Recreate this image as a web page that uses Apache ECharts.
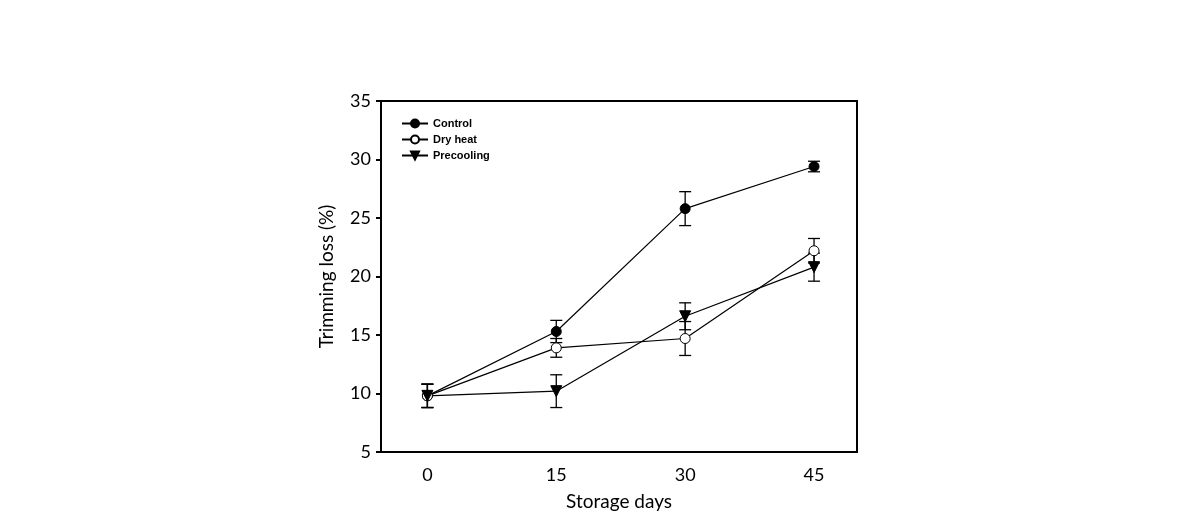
<!DOCTYPE html>
<html><head><meta charset="utf-8">
<script src="https://cdn.jsdelivr.net/npm/echarts@6/dist/echarts.min.js"></script>
<style>html,body{margin:0;padding:0;background:#fff}#c{width:1191px;height:528px}</style>
</head><body><div id="c"></div>
<script>
const days = [0, 15, 30, 45];
const xTicks = [0, 15, 30, 45];
const controlVals = [9.8, 15.3, 25.8, 29.4];
const controlErr = [1.0, 0.95, 1.45, 0.45];
const dryVals = [9.8, 13.9, 14.7, 22.2];
const dryErr = [1.0, 0.8, 1.45, 1.05];
const preVals = [9.8, 10.2, 16.6, 20.8];
const preErr = [1.0, 1.4, 1.15, 1.2];

function pts(v){ return days.map((d,i)=>[d, v[i]]); }
function errData(v,e){ return days.map((d,i)=>[d, v[i], e[i]]); }

function errSeries(v,e){
  return {
    type:'custom', z:1, silent:true,
    data: errData(v,e),
    renderItem:function(params, api){
      const x=api.value(0), y=api.value(1), er=api.value(2);
      const top=api.coord([x,y+er]), bot=api.coord([x,y-er]);
      const w=6;
      const st={stroke:'#000', lineWidth:1.3};
      return {type:'group', children:[
        {type:'line', shape:{x1:top[0],y1:top[1],x2:bot[0],y2:bot[1]}, style:st},
        {type:'line', shape:{x1:top[0]-w,y1:top[1],x2:top[0]+w,y2:top[1]}, style:st},
        {type:'line', shape:{x1:bot[0]-w,y1:bot[1],x2:bot[0]+w,y2:bot[1]}, style:st}
      ]};
    }
  };
}

const chart = echarts.init(document.getElementById('c'));
const tickFont = {fontFamily:'Lato', fontSize:18, color:'#000'};
chart.setOption({
  animation:false,
  backgroundColor:'#fff',
  grid:{left:381, right:334, top:101, bottom:76, show:true, borderColor:'#000', borderWidth:2, backgroundColor:'transparent'},
  legend:{
    orient:'vertical', left:396, top:113, itemWidth:26, itemHeight:10, itemGap:5,
    textStyle:{fontFamily:'Liberation Sans', fontWeight:'bold', fontSize:11, color:'#000', padding:[0,0,0,0]},
    data:['Control','Dry heat','Precooling']
  },
  xAxis:{
    type:'value', min:-5.4, max:50,
    name:'Storage days', nameLocation:'middle', nameGap:40,
    nameTextStyle:{fontFamily:'Lato', fontSize:19, color:'#000'},
    axisLine:{show:true, onZero:false, lineStyle:{color:'#000', width:2}},
    axisTick:{show:false},
    splitLine:{show:false},
    axisLabel:{customValues:xTicks, margin:14, ...tickFont}
  },
  yAxis:{
    type:'value', min:5, max:35, interval:5,
    name:'Trimming loss (%)', nameLocation:'middle', nameGap:45,
    nameTextStyle:{fontFamily:'Lato', fontSize:19, color:'#000'},
    axisLine:{show:true, onZero:false, lineStyle:{color:'#000', width:2}},
    axisTick:{show:true, inside:false, length:5, lineStyle:{color:'#000', width:2}},
    splitLine:{show:false},
    axisLabel:{margin:10, ...tickFont}
  },
  series:[
    errSeries(controlVals, controlErr),
    errSeries(dryVals, dryErr),
    errSeries(preVals, preErr),
    {name:'Control', type:'line', z:3, data:pts(controlVals), symbol:'circle', symbolSize:10,
     lineStyle:{color:'#000', width:1.2}, itemStyle:{color:'#000', borderColor:'#000', borderWidth:1}},
    {name:'Dry heat', type:'line', z:3, data:pts(dryVals), symbol:'circle', symbolSize:10,
     lineStyle:{color:'#000', width:1.2}, itemStyle:{color:'#fff', borderColor:'#000', borderWidth:1}},
    {name:'Precooling', type:'line', z:3, data:pts(preVals), symbol:'triangle', symbolRotate:180, symbolSize:11,
     lineStyle:{color:'#000', width:1.2}, itemStyle:{color:'#000', borderColor:'#000', borderWidth:1}}
  ]
});
</script></body></html>
